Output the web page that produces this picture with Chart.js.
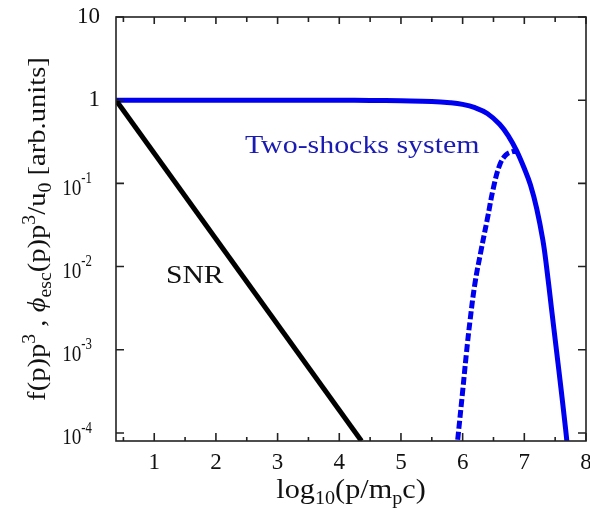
<!DOCTYPE html>
<html>
<head>
<meta charset="utf-8">
<script src="https://cdn.jsdelivr.net/npm/chart.js"></script>
<style>
  html, body { margin: 0; padding: 0; background: #fff; }
  #wrap { width: 590px; height: 512px; }
</style>
</head>
<body>
<div id="wrap"><canvas id="chart"></canvas></div>
<script>
// axis ranges and ticks
const xMin = 0.38, xMax = 8;
const yMin = 8e-5, yMax = 10;
const xTicks = [1, 2, 3, 4, 5, 6, 7, 8];
const xTickLabels = ['1', '2', '3', '4', '5', '6', '7', '8'];
const xMinorTicks = [0.5, 1.5, 2.5, 3.5, 4.5, 5.5, 6.5, 7.5];
const yTicks = [10, 1, 0.1, 0.01, 0.001, 0.0001];
const yTickBase = ['10', '1', '10', '10', '10', '10'];
const yTickExp = ['', '', '-1', '-2', '-3', '-4'];

// SNR spectrum (black)
const snrX = [0.38, 4.36];
const snrY = [1, 8e-5];

// two-shocks system, total (blue solid)
const totalX = [0.38, 1, 2, 3, 4, 4.5, 5, 5.5, 5.8, 6.0, 6.2, 6.4, 6.6, 6.75, 6.87, 7.0, 7.1, 7.2, 7.3, 7.36, 7.44, 7.52, 7.6, 7.67, 7.69];
const totalY = [1, 1, 1, 1, 1, 0.993, 0.982, 0.966, 0.933, 0.891, 0.813, 0.692, 0.513, 0.363, 0.251, 0.151, 0.0955, 0.05, 0.0209, 0.01, 3.16e-3, 1e-3, 3.16e-4, 1.1e-4, 7.9e-5];

// escaping particles (blue dashed)
const escX = [5.92, 6.0, 6.06, 6.12, 6.2, 6.3, 6.4, 6.5, 6.6, 6.7, 6.8, 6.87];
const escY = [8.3e-5, 3.16e-4, 8.9e-4, 2.24e-3, 6.3e-3, 0.0158, 0.0372, 0.089, 0.166, 0.219, 0.24, 0.24];

const SERIF = '"Liberation Serif", "DejaVu Serif", serif';
const BLUE = '#0000f0';

function pts(xs, ys) {
  return xs.map((x, i) => ({ x: x, y: ys[i] }));
}

function fontFor(kind, size) {
  if (kind === 'sup' || kind === 'sub') return Math.round(size * 0.68) + 'px ' + SERIF;
  if (kind === 'it') return 'italic ' + size + 'px ' + SERIF;
  return size + 'px ' + SERIF;
}
// width of a run list like [['f(p)p','n'],['3','sup']]
function richWidth(ctx, runs, size, sx) {
  let w = 0;
  runs.forEach(r => {
    ctx.font = fontFor(r[1], size);
    w += ctx.measureText(r[0]).width;
  });
  return w * (sx || 1);
}
function drawRich(ctx, runs, x, y, size, sx) {
  ctx.save();
  ctx.translate(x, y);
  ctx.scale(sx || 1, 1);
  let cx = 0;
  runs.forEach(r => {
    ctx.font = fontFor(r[1], size);
    let dy = 0;
    if (r[1] === 'sup') dy = -size * 0.4;
    if (r[1] === 'sub') dy = size * 0.22;
    ctx.fillText(r[0], cx, dy);
    cx += ctx.measureText(r[0]).width;
  });
  ctx.restore();
}

const yTitle = [['f(p)p', 'n'], ['3', 'sup'], [' , ', 'n'], ['\u03d5', 'it'], ['esc', 'sub'],
  ['(p)p', 'n'], ['3', 'sup'], ['/u', 'n'], ['0', 'sub'], [' [arb.units]', 'n']];
const xTitle = [['log', 'n'], ['10', 'sub'], ['(p/m', 'n'], ['p', 'sub'], ['c)', 'n']];

const decor = {
  id: 'decor',
  afterDraw(chart) {
    const ctx = chart.ctx;
    const a = chart.chartArea;
    const xs = chart.scales.x, ys = chart.scales.y;
    ctx.save();
    // frame
    ctx.strokeStyle = '#222';
    ctx.lineWidth = 1.6;
    ctx.strokeRect(a.left, a.top, a.right - a.left, a.bottom - a.top);
    // ticks on all four sides
    ctx.beginPath();
    xTicks.forEach(v => {
      const px = xs.getPixelForValue(v);
      ctx.moveTo(px, a.bottom); ctx.lineTo(px, a.bottom - 8);
      ctx.moveTo(px, a.top); ctx.lineTo(px, a.top + 7);
    });
    xMinorTicks.forEach(v => {
      const px = xs.getPixelForValue(v);
      ctx.moveTo(px, a.bottom); ctx.lineTo(px, a.bottom - 4);
      ctx.moveTo(px, a.top); ctx.lineTo(px, a.top + 5);
    });
    yTicks.forEach(v => {
      const py = ys.getPixelForValue(v);
      ctx.moveTo(a.left, py); ctx.lineTo(a.left + 8, py);
      ctx.moveTo(a.right, py); ctx.lineTo(a.right - 8, py);
    });
    ctx.stroke();

    ctx.fillStyle = '#111';
    // x tick labels
    ctx.textBaseline = 'middle';
    ctx.textAlign = 'center';
    ctx.font = '23px ' + SERIF;
    xTicks.forEach((v, i) => {
      ctx.fillText(xTickLabels[i], xs.getPixelForValue(v), a.bottom + 22);
    });

    // y tick labels
    ctx.textAlign = 'left';
    yTicks.forEach((v, i) => {
      const py = ys.getPixelForValue(v);
      if (yTickExp[i] === '') {
        const runs = [[yTickBase[i], 'n']];
        const w = richWidth(ctx, runs, 23, 1);
        drawRich(ctx, runs, a.left - 16 - w, py, 23, 1);
      } else {
        const runs = [[yTickBase[i], 'n'], [yTickExp[i], 'sup']];
        const w = richWidth(ctx, runs, 24, 0.8);
        drawRich(ctx, runs, a.left - 24 - w, py + 5, 24, 0.8);
      }
    });

    // axis titles
    ctx.textBaseline = 'alphabetic';
    const xw = richWidth(ctx, xTitle, 27, 1.12);
    drawRich(ctx, xTitle, (a.left + a.right) / 2 - xw / 2, 498, 27, 1.12);

    ctx.save();
    ctx.translate(45, (a.top + a.bottom) / 2);
    ctx.rotate(-Math.PI / 2);
    const yw = richWidth(ctx, yTitle, 26, 1.1);
    drawRich(ctx, yTitle, -yw / 2, 0, 26, 1.1);
    ctx.restore();

    // curve labels
    const snrRuns = [['SNR', 'n']];
    drawRich(ctx, snrRuns, xs.getPixelForValue(1.19), ys.getPixelForValue(6.3e-3), 26, 1.14);
    ctx.fillStyle = '#1a1ab4';
    const tsRuns = [['Two-shocks system', 'n']];
    drawRich(ctx, tsRuns, xs.getPixelForValue(2.47), ys.getPixelForValue(0.23), 26, 1.15);
    ctx.restore();
  }
};

new Chart(document.getElementById('chart'), {
  type: 'line',
  data: {
    datasets: [
      { data: pts(snrX, snrY), borderColor: '#000', borderWidth: 5 },
      { data: pts(escX, escY), borderColor: BLUE, borderWidth: 5, borderDash: [8, 3], tension: 0.4 },
      { data: pts(totalX, totalY), borderColor: BLUE, borderWidth: 5, tension: 0.4 }
    ]
  },
  options: {
    responsive: true,
    maintainAspectRatio: false,
    animation: false,
    events: [],
    layout: { padding: { top: 17, right: 4, left: 0, bottom: 0 } },
    elements: { point: { radius: 0 }, line: { borderCapStyle: 'butt' } },
    plugins: { legend: { display: false }, tooltip: { enabled: false } },
    scales: {
      x: {
        type: 'linear', min: xMin, max: xMax,
        grid: { display: false }, border: { display: false },
        ticks: { display: false },
        afterFit: s => { s.height = 71; }
      },
      y: {
        type: 'logarithmic', min: yMin, max: yMax,
        grid: { display: false }, border: { display: false },
        ticks: { display: false },
        afterFit: s => { s.width = 116; }
      }
    }
  },
  plugins: [decor]
});
</script>
</body>
</html>
